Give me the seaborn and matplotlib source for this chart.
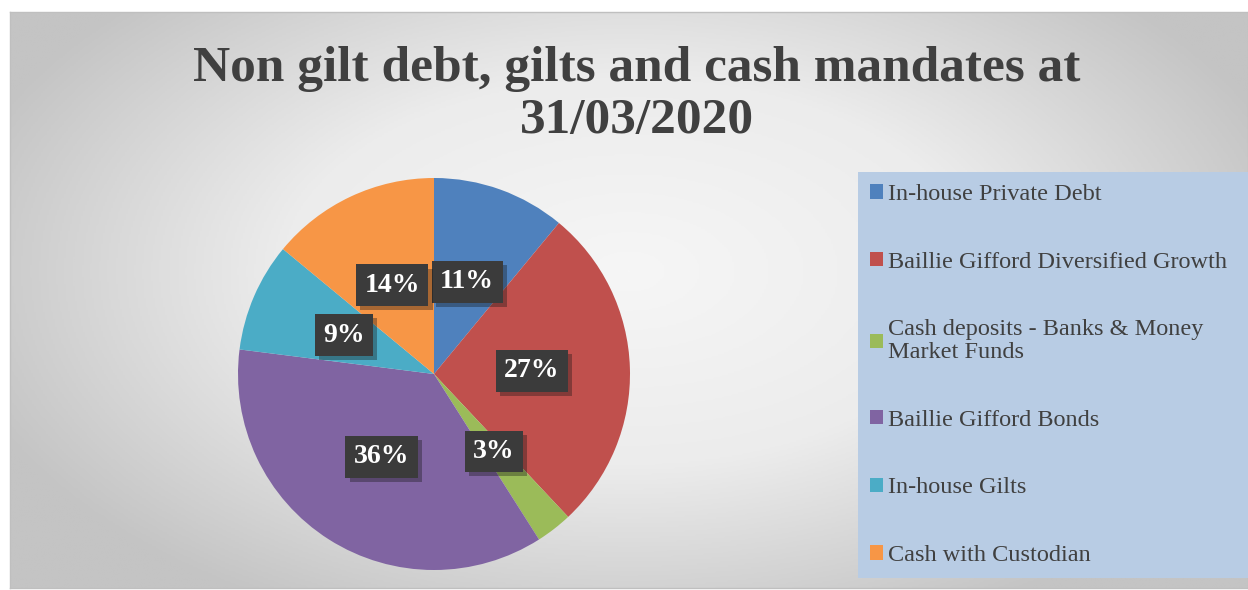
import numpy as np
import pandas as pd
import seaborn as sns
import matplotlib.pyplot as plt
import matplotlib.patheffects as pe

# data
categories = ["In-house Private Debt", "Baillie Gifford Diversified Growth",
              "Cash deposits - Banks & Money\nMarket Funds", "Baillie Gifford Bonds",
              "In-house Gilts", "Cash with Custodian"]
shares = [11, 27, 3, 36, 9, 14]
colors = ["#4F81BD", "#C0504D", "#9BBB59", "#8064A2", "#4BACC6", "#F79646"]
title = "Non gilt debt, gilts and cash mandates at\n31/03/2020"

df = pd.DataFrame({"category": categories, "share": shares})

sns.set_theme(style='white')
plt.rcParams['font.family'] = ['Liberation Serif', 'DejaVu Serif']

fig = plt.figure(figsize=(12.48, 5.9), dpi=100)
W, H = 1248, 590

# chart area with radial gradient background
bg = fig.add_axes([10 / W, 2 / H, 1238 / W, 576 / H])
yy, xx = np.mgrid[0:1:300j, 0:1:600j]
r = np.sqrt(((xx - 0.5) / 0.75) ** 2 + ((yy - 0.45) / 0.9) ** 2)
grad = np.clip(r / 0.75, 0, 1)
bg.imshow(grad, cmap=sns.blend_palette(["#f6f6f6", "#ececec", "#c4c4c4"], as_cmap=True),
          aspect='auto', extent=[0, 1, 0, 1], vmin=0, vmax=1)
bg.set_xticks([])
bg.set_yticks([])
for s in bg.spines.values():
    s.set_color("#bfbfbf")
    s.set_linewidth(1)

fig.text(637 / W, 1 - 95 / H, title, ha='center', va='center', fontsize=37,
         fontweight='bold', color='#404040', linespacing=1.17)

# pie
ax = fig.add_axes([238 / W, 20 / H, 392 / W, 392 / H])
wedges, _, autotexts = ax.pie(df["share"], colors=colors, startangle=90, counterclock=False,
                              autopct='%1.0f%%', pctdistance=0.5,
                              wedgeprops=dict(linewidth=0))
ax.set_xlim(-1, 1)
ax.set_ylim(-1, 1)
ax.set_aspect('equal')
for t in autotexts:
    t.set_color('white')
    t.set_fontsize(20)
    t.set_fontweight('bold')
    t.set_bbox(dict(boxstyle='square,pad=0.3', fc='#3b3b3b', ec='none'))
    t.get_bbox_patch().set_path_effects([pe.SimplePatchShadow(offset=(3, -3), alpha=0.35),
                                         pe.Normal()])

# legend
leg = fig.legend(wedges, df["category"], loc='upper left',
                 bbox_to_anchor=(858 / W, 1 - 576 / H, 390 / W, 404 / H),
                 mode='expand', frameon=True, fancybox=False, fontsize=17.5,
                 labelspacing=1.92, handlelength=0.52, handleheight=0.52,
                 handletextpad=0.22, borderaxespad=0, borderpad=0.5)
leg.get_frame().set_facecolor('#B8CCE4')
leg.get_frame().set_edgecolor('none')
leg.get_frame().set_alpha(1)
for t in leg.get_texts():
    t.set_color('#404040')
    t.set_linespacing(1.1)

fig.savefig("out.png", dpi=100)
